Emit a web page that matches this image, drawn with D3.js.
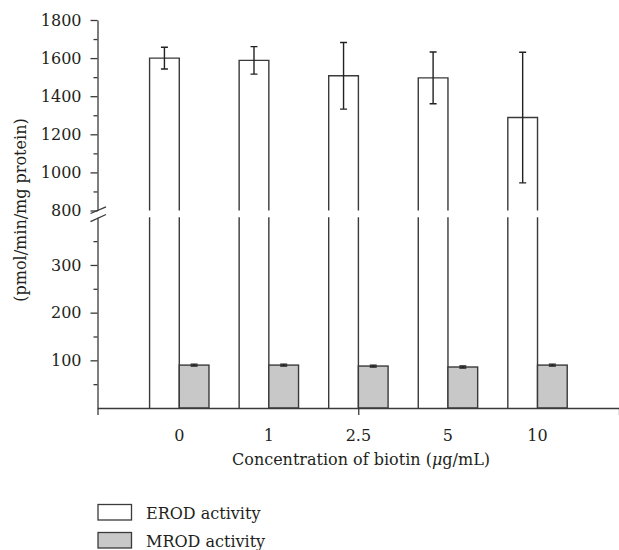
<!DOCTYPE html>
<html>
<head>
<meta charset="utf-8">
<script src="https://cdn.jsdelivr.net/npm/d3@7"></script>
<style>
  body { margin: 0; background: #fff; }
  svg { display: block; }
  text { font-family: "DejaVu Serif", "Liberation Serif", serif; fill: #231f20; }
</style>
</head>
<body>
<svg id="chart" width="619" height="550"></svg>
<script>
// data
const concentrations = ["0", "1", "2.5", "5", "10"];
const erodMean = [1600, 1588, 1507, 1496, 1288];
const erodErr  = [57, 72, 175, 136, 343];
const mrodMean = [90, 90, 88, 86, 90];
const mrodErr  = [2, 2, 2, 2, 2];

const lowTicks = [100, 200, 300];
const lowMinor = [50, 150, 250, 350];
const highTicks = [800, 1000, 1200, 1400, 1600, 1800];
const highMinor = [900, 1100, 1300, 1500, 1700];

const ink = "#3a3a3a";
const fontSize = 16;
const svg = d3.select("#chart");

// two y segments with a break between them
const axisX = 97.5;
const yLow = d3.scaleLinear().domain([0, 400]).range([408, 217.3]);
const yHigh = d3.scaleLinear().domain([800, 1800]).range([210.5, 20]);

// groups
const x = d3.scaleBand().domain(concentrations).range([134.5, 582.3]).padding(0);
const barW = 29.7;

// frame scale for the x axis line (ticks at ends and middle)
const frame = d3.scaleLinear().domain([0, 2]).range([axisX, 619]);

const g = svg.append("g");

// ---- EROD bars (white, drawn in both segments, open at the break) ----
const erod = g.selectAll(".erod").data(concentrations).enter().append("g");
erod.append("path")
  .attr("d", (d, i) => {
    const x0 = x(d) + x.bandwidth() / 2 - barW, x1 = x0 + barW;
    const top = yHigh(erodMean[i]), bot = yHigh(800);
    return `M${x0},${bot}V${top}H${x1}V${bot}`;
  })
  .attr("fill", "#fff").attr("stroke", ink).attr("stroke-width", 1.4);
erod.append("path")
  .attr("d", d => {
    const x0 = x(d) + x.bandwidth() / 2 - barW, x1 = x0 + barW;
    return `M${x0},${yLow(400)}V${yLow(0)}M${x1},${yLow(400)}V${yLow(0)}`;
  })
  .attr("fill", "none").attr("stroke", ink).attr("stroke-width", 1.4);

// ---- MROD bars (grey) ----
g.selectAll(".mrod").data(concentrations).enter().append("rect")
  .attr("x", d => x(d) + x.bandwidth() / 2)
  .attr("y", (d, i) => yLow(mrodMean[i]))
  .attr("width", barW)
  .attr("height", (d, i) => yLow(0) - yLow(mrodMean[i]))
  .attr("fill", "#c8c8c8").attr("stroke", ink).attr("stroke-width", 1.4);

// ---- error bars ----
function errorBar(cx, yTop, yBot) {
  const cap = 3.5;
  g.append("path")
    .attr("d", `M${cx},${yTop}V${yBot}M${cx - cap},${yTop}H${cx + cap}M${cx - cap},${yBot}H${cx + cap}`)
    .attr("fill", "none").attr("stroke", "#222").attr("stroke-width", 1.4);
}
concentrations.forEach((d, i) => {
  const c = x(d) + x.bandwidth() / 2;
  errorBar(c - barW / 2, yHigh(erodMean[i] + erodErr[i]), yHigh(erodMean[i] - erodErr[i]));
  errorBar(c + barW / 2, yLow(mrodMean[i] + mrodErr[i]), yLow(mrodMean[i] - mrodErr[i]));
});

// ---- y axes ----
function styleAxis(sel) {
  sel.selectAll("path, line").attr("stroke", ink).attr("stroke-width", 1.3);
  sel.selectAll("text").attr("font-size", fontSize).attr("fill", "#231f20")
    .style("font-family", '"DejaVu Serif", serif');
}
const fmt = d3.format("d");
const gHigh = svg.append("g").attr("transform", `translate(${axisX},0)`)
  .call(d3.axisLeft(yHigh).tickValues(highTicks).tickFormat(fmt).tickSize(7).tickPadding(9).tickSizeOuter(0));
svg.append("g").attr("transform", `translate(${axisX},0)`)
  .call(d3.axisLeft(yHigh).tickValues(highMinor).tickSize(4).tickFormat("").tickSizeOuter(0))
  .call(s => s.select(".domain").remove())
  .call(styleAxis);
gHigh.call(styleAxis);

const gLow = svg.append("g").attr("transform", `translate(${axisX},0)`)
  .call(d3.axisLeft(yLow).tickValues(lowTicks).tickFormat(fmt).tickSize(7).tickPadding(9).tickSizeOuter(0));
svg.append("g").attr("transform", `translate(${axisX},0)`)
  .call(d3.axisLeft(yLow).tickValues(lowMinor).tickSize(4).tickFormat("").tickSizeOuter(0))
  .call(s => s.select(".domain").remove())
  .call(styleAxis);
gLow.call(styleAxis);

// break marks
const brk = svg.append("g").attr("stroke", ink).attr("stroke-width", 1.3).attr("fill", "none");
brk.append("line").attr("x1", axisX - 7).attr("y1", 213.5).attr("x2", axisX + 8.5).attr("y2", 206.8);
brk.append("line").attr("x1", axisX - 7).attr("y1", 221.6).attr("x2", axisX + 8.5).attr("y2", 214.5);

// ---- x axis ----
svg.append("g").attr("transform", `translate(0,${yLow(0)})`)
  .call(d3.axisBottom(frame).tickValues([0, 1, 2]).tickSize(7).tickFormat("").tickSizeOuter(0))
  .call(styleAxis);

svg.append("g").attr("transform", `translate(0,${yLow(0)})`)
  .call(d3.axisBottom(x).tickSize(0).tickPadding(21.5))
  .call(s => s.select(".domain").remove())
  .call(styleAxis);

// axis titles
const xTitle = svg.append("text")
  .attr("x", 361).attr("y", 465).attr("text-anchor", "middle").attr("font-size", fontSize);
xTitle.append("tspan").text("Concentration of biotin (");
xTitle.append("tspan").attr("font-style", "italic").text("\u03bc");
xTitle.append("tspan").text("g/mL)");

svg.append("text")
  .attr("transform", "translate(26,210) rotate(-90)")
  .attr("text-anchor", "middle").attr("font-size", fontSize)
  .text("(pmol/min/mg protein)");

// ---- legend ----
const legendItems = ["EROD activity", "MROD activity"];
const legendFill = ["#fff", "#c8c8c8"];
const lg = svg.append("g").attr("transform", "translate(98,504.5)");
legendItems.forEach((name, i) => {
  const row = lg.append("g").attr("transform", `translate(0,${i * 28})`);
  row.append("rect").attr("width", 33.5).attr("height", 15.5)
    .attr("fill", legendFill[i]).attr("stroke", ink).attr("stroke-width", 1.3);
  row.append("text").attr("x", 48).attr("y", 14.5).attr("font-size", fontSize).text(name);
});
</script>
</body>
</html>
